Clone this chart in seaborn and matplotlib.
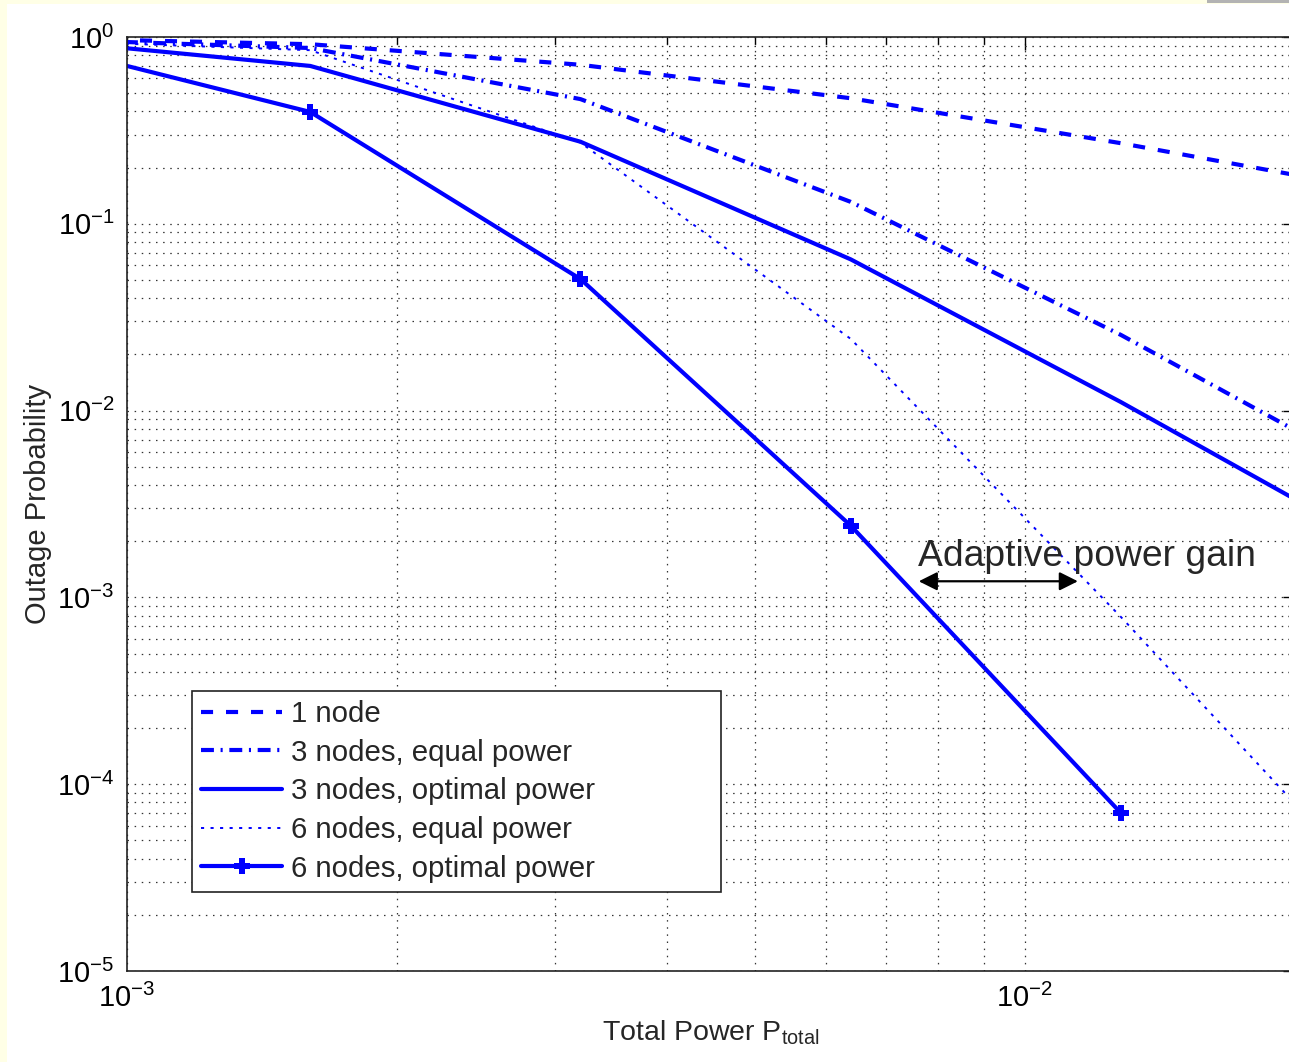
import numpy as np
import pandas as pd
import matplotlib
matplotlib.use("Agg")
import matplotlib.pyplot as plt
from matplotlib.patches import Rectangle
import seaborn as sns

sns.set_theme(style="white")
plt.rcParams["font.family"] = ["Liberation Sans", "DejaVu Sans"]
plt.rcParams["mathtext.fontset"] = "custom"
plt.rcParams["mathtext.rm"] = "Liberation Sans"
plt.rcParams["mathtext.it"] = "Liberation Sans:italic"
plt.rcParams["mathtext.bf"] = "Liberation Sans:bold"

# total power values (first and last points fall outside the axis window)
x_power = [0.8e-3, 1.6e-3, 3.2e-3, 6.4e-3, 12.8e-3, 25.6e-3]
x_power_6opt = [0.8e-3, 1.6e-3, 3.2e-3, 6.4e-3, 12.8e-3]

one_node = [0.985, 0.915, 0.71, 0.47, 0.27, 0.147]
three_equal = [0.973, 0.873, 0.465, 0.131, 0.0254, 0.0041]
three_opt = [0.965, 0.70, 0.275, 0.0645, 0.0111, 0.00173]
six_equal = [0.955, 0.85, 0.272, 0.0242, 7.85e-4, 2.2e-5]
six_opt = [0.916, 0.397, 0.0506, 0.00242, 7.0e-5]

labels = ["1 node", "3 nodes, equal power", "3 nodes, optimal power",
          "6 nodes, equal power", "6 nodes, optimal power"]

fig = plt.figure(figsize=(12.89, 10.62), dpi=100)
fig.patch.set_facecolor("#FFFFE6")
fig.patches.append(Rectangle((7 / 1289, 0), 1, 1 - 4 / 1062, transform=fig.transFigure,
                             facecolor="white", edgecolor="none", zorder=-10))
fig.patches.append(Rectangle((1207 / 1289, 1 - 3 / 1062), 1, 1, transform=fig.transFigure,
                             facecolor="#B3B3B3", edgecolor="none", zorder=-9))

ax = fig.add_axes([127 / 1289, 91 / 1062, 1168 / 1289, 934 / 1062])
ax.set_facecolor("white")

blue = "#0000FF"
d1 = pd.DataFrame({"p": x_power, "out": one_node})
d2 = pd.DataFrame({"p": x_power, "out": three_equal})
d3 = pd.DataFrame({"p": x_power, "out": three_opt})
d4 = pd.DataFrame({"p": x_power, "out": six_equal})
d5 = pd.DataFrame({"p": x_power_6opt, "out": six_opt})

sns.lineplot(data=d1, x="p", y="out", ax=ax, color=blue, lw=3,
             linestyle=(0, (2.9, 3.1)), label=labels[0])
sns.lineplot(data=d2, x="p", y="out", ax=ax, color=blue, lw=3,
             linestyle=(0, (3.1, 1.6, 0.5, 1.6)), label=labels[1])
sns.lineplot(data=d3, x="p", y="out", ax=ax, color=blue, lw=3, label=labels[2])
sns.lineplot(data=d4, x="p", y="out", ax=ax, color=blue, lw=1.4,
             linestyle=(0, (1.6, 3.3)), label=labels[3])
sns.lineplot(data=d5, x="p", y="out", ax=ax, color=blue, lw=3, marker="P",
             markersize=12, markeredgewidth=0, label=labels[4])

ax.set_xscale("log")
ax.set_yscale("log")
ax.set_xlim(1e-3, 2e-2)
ax.set_ylim(1e-5, 1)

ax.grid(which="both", color="#333333", lw=0.9, linestyle=(0, (1.2, 4.5)))
ax.set_axisbelow(True)
ax.tick_params(which="both", direction="in", top=True, right=True, colors="black")
ax.tick_params(which="major", length=9, width=1, labelsize=21, pad=9)
ax.tick_params(which="minor", length=5, width=1)
for s in ax.spines.values():
    s.set_color("#222222")
    s.set_linewidth(1.2)

ax.set_xlabel(r"Total Power P$_{\rm total}$", fontsize=20.5, labelpad=4)
ax.set_ylabel("Outage Probability", fontsize=21, labelpad=4)

# adaptive power gain marker
ax.annotate("", xy=(7.62e-3, 1.22e-3), xytext=(1.146e-2, 1.22e-3),
            arrowprops=dict(arrowstyle="<|-|>", color="black", lw=1.6, mutation_scale=28,
                            shrinkA=0, shrinkB=0))
ax.text(7.6e-3, 1.47e-3, "Adaptive power gain", fontsize=26.8, ha="left", va="baseline")

leg = ax.legend(loc="lower left", bbox_to_anchor=(0.0557, 0.0846, 0.453, 0.215),
                mode="expand", fontsize=21.2, handlelength=2.75, handletextpad=0.3,
                labelspacing=0.36, borderpad=0.32, borderaxespad=0, fancybox=False,
                framealpha=1, edgecolor="#222222")
leg.get_frame().set_linewidth(1.2)

fig.savefig("out.png", dpi=100, facecolor=fig.get_facecolor())
